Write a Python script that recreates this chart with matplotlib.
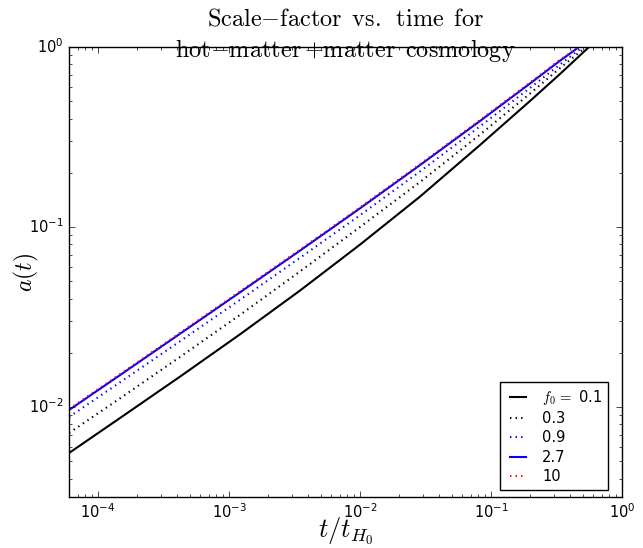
import matplotlib
matplotlib.use('Agg')
import matplotlib.pyplot as plt

# t / t_H0 sample points
t_grid = [6.006e-5, 1.472e-4, 4.227e-4, 1.213e-3, 3.483e-3, 1.0e-2,
          2.871e-2, 8.241e-2, 0.1985, 0.3363]

# a(t) for each f0 at t_grid; each curve then ends where it reaches a = 1
a_f01 = [0.005552, 0.008688, 0.014755, 0.025342, 0.044367, 0.07983,
         0.14755, 0.28543, 0.50119, 0.70795]
a_f03 = [0.007170, 0.011175, 0.018981, 0.032484, 0.056654, 0.1,
         0.17783, 0.32628, 0.55104, 0.76333]
a_f09 = [0.008799, 0.013717, 0.023197, 0.039400, 0.067452, 0.11627,
         0.20362, 0.36218, 0.59264, 0.79926]
a_f27 = [0.009624, 0.015040, 0.025534, 0.043368, 0.073943, 0.12700,
         0.22076, 0.38805, 0.62676, 0.83919]
a_f10 = [0.009748, 0.015234, 0.025864, 0.043928, 0.074898, 0.12864,
         0.22361, 0.39306, 0.63485, 0.85002]
t_end = [0.5598, 0.5311, 0.5011, 0.4696, 0.4655]

labels = [r'$f_0\,=$ 0.1', '0.3', '0.9', '2.7', '10']
colors = ['black', 'black', 'blue', 'blue', 'red']
styles = ['-', ':', ':', '-', ':']

plt.style.use('classic')
plt.rcParams['figure.facecolor'] = 'white'
plt.rcParams['savefig.facecolor'] = 'white'

fig = plt.figure(figsize=(6.43, 5.48), dpi=100)
ax = fig.add_axes([69/643, 1-497/548, 553/643, 450/548])

for a, te, lab, c, ls in zip([a_f01, a_f03, a_f09, a_f27, a_f10], t_end, labels, colors, styles):
    ax.plot(t_grid + [te], a + [1.0], color=c, linestyle=ls, linewidth=1.5, label=lab)

ax.set_xscale('log')
ax.set_yscale('log')
ax.set_xlim(6e-5, 1)
ax.set_ylim(10**-2.5, 1)
ax.tick_params(labelsize=10.5)

ax.set_xlabel(r'$t/t_{H_0}$', fontsize=19, labelpad=-4)
ax.set_ylabel(r'$a(t)$', fontsize=17, labelpad=-9)
ax.set_title(r'$\mathrm{Scale{-}factor\ \,vs.\ \,time\ \,for}$' + '\n' +
             r'$\mathrm{hot{-}matter\,{+}matter\ \,cosmology}$', fontsize=17.5, pad=-7,
             linespacing=1.3)

ax.legend(loc='lower right', bbox_to_anchor=(0.975, 0.0156), borderaxespad=0,
          fontsize=10.5, handlelength=1.7, labelspacing=0.3, fancybox=False)

fig.savefig('out.png', dpi=100)
